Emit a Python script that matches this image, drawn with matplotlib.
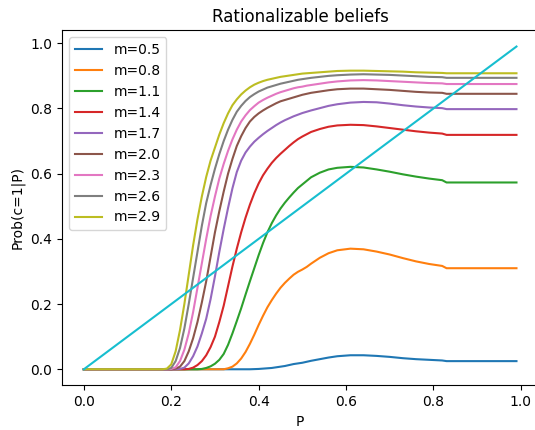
import matplotlib
matplotlib.use("Agg")
import matplotlib.pyplot as plt

# Grid of P values on which the beliefs were evaluated
P = [0.00, 0.18, 0.19, 0.20, 0.21, 0.22, 0.23, 0.24, 0.25, 0.26, 0.27, 0.28,
     0.29, 0.30, 0.31, 0.32, 0.33, 0.34, 0.35, 0.36, 0.37, 0.38, 0.39, 0.40,
     0.41, 0.42, 0.43, 0.44, 0.45, 0.46, 0.47, 0.48, 0.49, 0.50, 0.51, 0.52,
     0.54, 0.56, 0.58, 0.61, 0.64, 0.67, 0.70, 0.73, 0.76, 0.79, 0.82, 0.83, 0.99]

m_values = [0.5, 0.8, 1.1, 1.4, 1.7, 2.0, 2.3, 2.6, 2.9]

belief_m05 = [0, 0, 0, 0, 0, 0, 0, 0, 0, 0, 0, 0,
              0, 0, 0, 0, 0, 0, 0, 0, 0, 0, 0.0005, 0.001,
              0.002, 0.003, 0.004, 0.006, 0.008, 0.010, 0.013, 0.016, 0.018, 0.020, 0.023, 0.026,
              0.031, 0.036, 0.040, 0.043, 0.043, 0.041, 0.038, 0.034, 0.031, 0.029, 0.027, 0.025, 0.025]

belief_m08 = [0, 0, 0, 0, 0, 0, 0, 0, 0, 0, 0, 0,
              0, 0, 0, 0, 0.003, 0.008, 0.018, 0.033, 0.053, 0.078, 0.106, 0.136,
              0.164, 0.190, 0.212, 0.232, 0.250, 0.265, 0.278, 0.290, 0.299, 0.306, 0.314, 0.324,
              0.342, 0.356, 0.365, 0.370, 0.368, 0.361, 0.352, 0.341, 0.331, 0.323, 0.317, 0.310, 0.310]

belief_m11 = [0, 0, 0, 0, 0, 0, 0, 0, 0, 0, 0.001, 0.004,
              0.009, 0.017, 0.029, 0.047, 0.075, 0.110, 0.148, 0.187, 0.229, 0.270, 0.310, 0.350,
              0.387, 0.420, 0.448, 0.472, 0.493, 0.511, 0.527, 0.542, 0.556, 0.567, 0.578, 0.589,
              0.603, 0.613, 0.618, 0.621, 0.619, 0.613, 0.606, 0.598, 0.591, 0.585, 0.580, 0.573, 0.573]

belief_m14 = [0, 0, 0, 0, 0, 0, 0, 0.001, 0.005, 0.013, 0.025, 0.043,
              0.068, 0.100, 0.145, 0.195, 0.255, 0.315, 0.370, 0.420, 0.465, 0.505, 0.540, 0.570,
              0.595, 0.615, 0.633, 0.648, 0.661, 0.673, 0.685, 0.696, 0.706, 0.714, 0.721, 0.728,
              0.737, 0.744, 0.748, 0.750, 0.749, 0.745, 0.740, 0.735, 0.730, 0.726, 0.723, 0.719, 0.719]

belief_m17 = [0, 0, 0, 0, 0, 0.001, 0.005, 0.018, 0.040, 0.070, 0.110, 0.155,
              0.215, 0.285, 0.360, 0.430, 0.495, 0.555, 0.605, 0.640, 0.665, 0.683, 0.698, 0.710,
              0.721, 0.731, 0.740, 0.749, 0.757, 0.764, 0.770, 0.776, 0.781, 0.786, 0.790, 0.794,
              0.801, 0.808, 0.813, 0.818, 0.820, 0.819, 0.815, 0.810, 0.806, 0.803, 0.801, 0.798, 0.798]

belief_m20 = [0, 0, 0, 0, 0.002, 0.008, 0.025, 0.055, 0.095, 0.145, 0.205, 0.270,
              0.345, 0.420, 0.485, 0.545, 0.600, 0.645, 0.685, 0.715, 0.740, 0.760, 0.774, 0.785,
              0.794, 0.802, 0.809, 0.816, 0.822, 0.826, 0.830, 0.834, 0.838, 0.842, 0.845, 0.848,
              0.852, 0.856, 0.859, 0.861, 0.861, 0.859, 0.857, 0.854, 0.851, 0.849, 0.848, 0.845, 0.845]

belief_m23 = [0, 0, 0, 0.001, 0.006, 0.025, 0.060, 0.110, 0.175, 0.250, 0.325, 0.400,
              0.470, 0.530, 0.585, 0.630, 0.670, 0.705, 0.735, 0.760, 0.779, 0.795, 0.807, 0.818,
              0.826, 0.833, 0.839, 0.845, 0.850, 0.854, 0.858, 0.862, 0.865, 0.867, 0.870, 0.872,
              0.876, 0.880, 0.883, 0.886, 0.887, 0.886, 0.884, 0.882, 0.880, 0.878, 0.877, 0.875, 0.875]

belief_m26 = [0, 0, 0, 0.004, 0.025, 0.065, 0.125, 0.200, 0.280, 0.360, 0.440, 0.510,
              0.565, 0.615, 0.660, 0.700, 0.735, 0.765, 0.790, 0.808, 0.823, 0.835, 0.844, 0.852,
              0.858, 0.864, 0.868, 0.872, 0.876, 0.879, 0.882, 0.885, 0.888, 0.890, 0.892, 0.894,
              0.897, 0.900, 0.902, 0.904, 0.905, 0.904, 0.903, 0.901, 0.899, 0.897, 0.896, 0.894, 0.894]

belief_m29 = [0, 0, 0.002, 0.015, 0.055, 0.120, 0.200, 0.290, 0.380, 0.460, 0.530, 0.590,
              0.640, 0.680, 0.720, 0.755, 0.785, 0.810, 0.828, 0.843, 0.855, 0.865, 0.873, 0.879,
              0.884, 0.888, 0.891, 0.894, 0.897, 0.899, 0.901, 0.903, 0.905, 0.907, 0.908, 0.909,
              0.911, 0.913, 0.915, 0.916, 0.916, 0.915, 0.914, 0.913, 0.911, 0.910, 0.909, 0.908, 0.908]

beliefs = [belief_m05, belief_m08, belief_m11, belief_m14, belief_m17,
           belief_m20, belief_m23, belief_m26, belief_m29]

# 45-degree reference line
diag_x = [0.0, 0.99]
diag_y = [0.0, 0.99]

fig = plt.figure(figsize=(5.35, 4.30), dpi=100)
ax = fig.add_axes([0.1163, 0.1037, 0.8895, 0.8256])

for m, b in zip(m_values, beliefs):
    ax.plot(P, b, label=f"m={m}")
ax.plot(diag_x, diag_y)

ax.set_title("Rationalizable beliefs")
ax.set_xlabel("P")
ax.set_ylabel("Prob(c=1|P)")
ax.legend(loc="upper left")

fig.savefig("out.png", dpi=100)
